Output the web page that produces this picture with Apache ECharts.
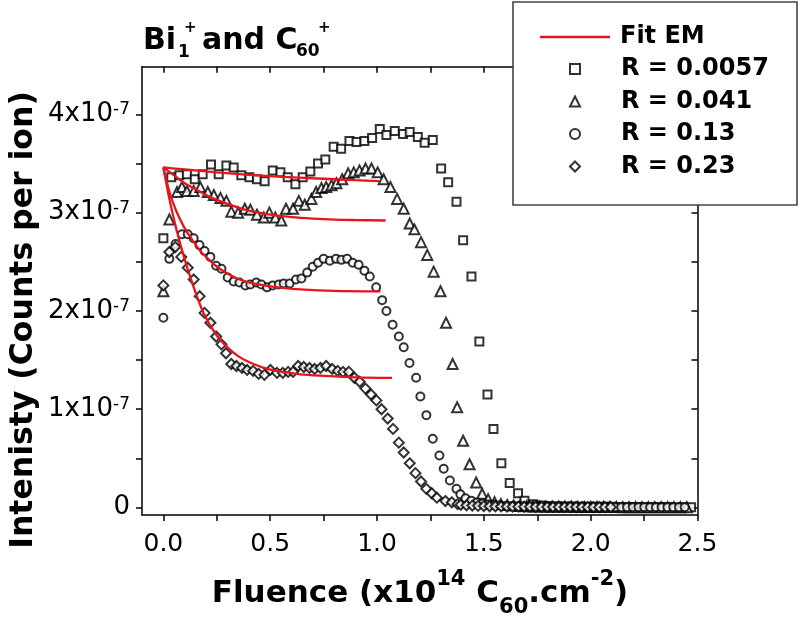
<!DOCTYPE html>
<html><head><meta charset="utf-8">
<script src="https://cdn.jsdelivr.net/npm/echarts@6/dist/echarts.min.js"></script>
<style>html,body{margin:0;padding:0;background:#fff}#c{width:800px;height:620px}</style>
</head><body><div id="c"></div>
<script>
// Intensity values in units of 1e-7 counts per ion; fluence in 1e14 C60/cm2
const xTicks = [0, 0.5, 1.0, 1.5, 2.0, 2.5];
const xMinorTicks = [0, 0.25, 0.5, 0.75, 1.0, 1.25, 1.5, 1.75, 2.0, 2.25, 2.5];
const yTicks = [0, 1, 2, 3, 4];
const yMinorTicks = [0, 0.5, 1, 1.5, 2, 2.5, 3, 3.5, 4];
const seriesNames = ['R = 0.0057', 'R = 0.041', 'R = 0.13', 'R = 0.23'];

const dataR0057 = [[0.000,2.74],[0.037,3.36],[0.075,3.38],[0.110,3.39],[0.147,3.34],[0.184,3.39],[0.223,3.49],[0.259,3.39],[0.295,3.48],[0.329,3.46],[0.365,3.38],[0.403,3.36],[0.438,3.34],[0.474,3.32],[0.512,3.43],[0.548,3.41],[0.582,3.36],[0.618,3.29],[0.652,3.36],[0.688,3.42],[0.724,3.50],[0.758,3.54],[0.797,3.67],[0.832,3.65],[0.871,3.73],[0.904,3.72],[0.941,3.73],[0.977,3.76],[1.013,3.85],[1.044,3.79],[1.083,3.83],[1.122,3.80],[1.153,3.82],[1.191,3.77],[1.223,3.71],[1.261,3.74],[1.300,3.45],[1.333,3.31],[1.372,3.11],[1.403,2.72],[1.442,2.35],[1.479,1.69],[1.517,1.15],[1.545,0.80],[1.582,0.45],[1.621,0.25],[1.660,0.146],[1.690,0.07],[1.730,0.034],[1.767,0.02],[1.804,0.015],[1.841,0.012],[1.878,0.01],[1.915,0.01],[1.952,0.009],[1.989,0.008],[2.026,0.008],[2.063,0.007],[2.100,0.007],[2.137,0.006],[2.174,0.006],[2.211,0.006],[2.248,0.005],[2.285,0.005],[2.322,0.005],[2.359,0.005],[2.396,0.004],[2.433,0.004],[2.470,0.004]];

const dataR041 = [[0.000,2.20],[0.028,2.93],[0.064,3.21],[0.087,3.26],[0.110,3.22],[0.142,3.22],[0.173,3.26],[0.208,3.21],[0.236,3.18],[0.267,3.15],[0.295,3.12],[0.318,3.01],[0.350,3.00],[0.381,3.04],[0.407,3.03],[0.438,2.98],[0.470,2.95],[0.496,3.00],[0.524,2.95],[0.552,2.92],[0.574,3.04],[0.607,3.04],[0.634,3.12],[0.662,3.08],[0.693,3.14],[0.715,3.21],[0.740,3.25],[0.762,3.26],[0.787,3.28],[0.810,3.30],[0.837,3.34],[0.865,3.40],[0.891,3.41],[0.918,3.43],[0.946,3.45],[0.974,3.45],[1.003,3.41],[1.031,3.34],[1.063,3.26],[1.094,3.14],[1.125,3.04],[1.153,2.89],[1.175,2.83],[1.206,2.70],[1.235,2.57],[1.265,2.40],[1.297,2.20],[1.323,1.88],[1.354,1.46],[1.375,1.02],[1.403,0.68],[1.433,0.44],[1.464,0.255],[1.492,0.14],[1.520,0.085],[1.550,0.055],[1.580,0.035],[1.610,0.025],[1.640,0.02],[1.670,0.016],[1.700,0.013],[1.730,0.011],[1.760,0.01],[1.790,0.009],[1.820,0.008],[1.850,0.008],[1.880,0.007],[1.910,0.007],[1.940,0.006],[1.970,0.006],[2.000,0.006],[2.030,0.005],[2.060,0.005],[2.090,0.005],[2.120,0.005],[2.150,0.004],[2.180,0.004],[2.210,0.004],[2.240,0.004],[2.270,0.004],[2.300,0.004],[2.330,0.003],[2.360,0.003],[2.390,0.003],[2.420,0.003],[2.450,0.003]];

const dataR13 = [[0.000,1.93],[0.028,2.53],[0.057,2.68],[0.087,2.78],[0.114,2.78],[0.142,2.74],[0.169,2.67],[0.193,2.61],[0.220,2.55],[0.247,2.46],[0.272,2.43],[0.301,2.34],[0.329,2.30],[0.356,2.29],[0.384,2.26],[0.407,2.27],[0.435,2.29],[0.459,2.27],[0.485,2.24],[0.512,2.26],[0.540,2.27],[0.563,2.28],[0.591,2.28],[0.621,2.32],[0.646,2.33],[0.673,2.39],[0.699,2.45],[0.724,2.49],[0.750,2.53],[0.779,2.51],[0.808,2.53],[0.833,2.52],[0.860,2.53],[0.886,2.49],[0.914,2.47],[0.941,2.41],[0.966,2.35],[0.996,2.24],[1.024,2.11],[1.044,2.00],[1.073,1.86],[1.102,1.74],[1.125,1.63],[1.152,1.47],[1.183,1.32],[1.203,1.13],[1.231,0.94],[1.261,0.70],[1.292,0.53],[1.312,0.395],[1.341,0.275],[1.372,0.19],[1.390,0.136],[1.414,0.095],[1.441,0.07],[1.468,0.052],[1.495,0.04],[1.522,0.032],[1.549,0.026],[1.576,0.022],[1.603,0.019],[1.630,0.016],[1.657,0.014],[1.684,0.012],[1.711,0.011],[1.738,0.01],[1.765,0.009],[1.792,0.009],[1.819,0.008],[1.846,0.008],[1.873,0.007],[1.900,0.007],[1.927,0.006],[1.954,0.006],[1.981,0.006],[2.008,0.005],[2.035,0.005],[2.062,0.005],[2.089,0.005],[2.116,0.004],[2.143,0.004],[2.170,0.004],[2.197,0.004],[2.224,0.004],[2.251,0.003],[2.278,0.003],[2.305,0.003],[2.332,0.003],[2.359,0.003],[2.386,0.003],[2.413,0.003],[2.440,0.003]];

const dataR23 = [[0.000,2.26],[0.028,2.60],[0.056,2.65],[0.084,2.55],[0.114,2.44],[0.142,2.32],[0.170,2.15],[0.193,1.98],[0.220,1.88],[0.247,1.74],[0.272,1.66],[0.293,1.57],[0.318,1.46],[0.342,1.44],[0.368,1.42],[0.392,1.40],[0.420,1.39],[0.446,1.36],[0.473,1.35],[0.501,1.40],[0.532,1.37],[0.559,1.37],[0.584,1.38],[0.607,1.38],[0.631,1.44],[0.657,1.43],[0.684,1.42],[0.708,1.41],[0.735,1.42],[0.762,1.44],[0.790,1.41],[0.816,1.39],[0.841,1.38],[0.868,1.38],[0.894,1.32],[0.919,1.28],[0.946,1.21],[0.972,1.15],[0.997,1.09],[1.021,1.00],[1.050,0.905],[1.075,0.80],[1.102,0.66],[1.125,0.56],[1.153,0.45],[1.180,0.35],[1.206,0.265],[1.231,0.19],[1.256,0.145],[1.280,0.10],[1.320,0.066],[1.350,0.053],[1.377,0.035],[1.392,0.028],[1.419,0.023],[1.446,0.02],[1.473,0.017],[1.500,0.015],[1.527,0.013],[1.554,0.012],[1.581,0.011],[1.608,0.01],[1.635,0.009],[1.662,0.009],[1.689,0.008],[1.716,0.008],[1.743,0.007],[1.770,0.007],[1.797,0.006],[1.824,0.006],[1.851,0.006],[1.878,0.005],[1.905,0.005],[1.932,0.005],[1.959,0.005],[1.986,0.004],[2.013,0.004],[2.040,0.004],[2.067,0.004],[2.094,0.004]];

const fitR0057 = [[0,3.46],[0.1,3.44],[0.25,3.41],[0.4,3.385],[0.56,3.365],[0.7,3.35],[0.8,3.34],[0.9,3.33],[1.01,3.32]];
const fitR041 = [[0,3.46],[0.05,3.38],[0.1,3.30],[0.15,3.24],[0.2,3.18],[0.25,3.13],[0.3,3.09],[0.4,3.02],[0.5,2.98],[0.6,2.955],[0.7,2.94],[0.8,2.93],[0.9,2.925],[1.04,2.92]];
const fitR13 = [[0,3.46],[0.03,3.2],[0.06,3.02],[0.095,2.86],[0.13,2.74],[0.173,2.61],[0.21,2.53],[0.251,2.45],[0.3,2.38],[0.345,2.33],[0.4,2.29],[0.485,2.255],[0.56,2.235],[0.64,2.22],[0.8,2.205],[1.016,2.2]];
const fitR23 = [[0,3.46],[0.03,3.12],[0.06,2.84],[0.095,2.56],[0.142,2.24],[0.19,1.97],[0.25,1.75],[0.3,1.63],[0.35,1.54],[0.4,1.48],[0.485,1.41],[0.56,1.38],[0.64,1.355],[0.75,1.34],[0.9,1.325],[1.07,1.32]];

const FONT = '"DejaVu Sans", Verdana, sans-serif';
const RED = '#e8141c';
const chart = echarts.init(document.getElementById('c'), null, {renderer: 'canvas'});

const axisLineStyle = {color: '#000', width: 1.5};
function xAx(pos, showLabel, inside) {
  return {
    type: 'value', position: pos, min: -0.1, max: 2.5,
    axisLine: {show: true, onZero: false, lineStyle: axisLineStyle},
    axisTick: {show: true, inside: inside, length: 6, customValues: xMinorTicks, lineStyle: axisLineStyle},
    axisLabel: showLabel ? {show: true, customValues: xTicks, formatter: v => v.toFixed(1), fontSize: 25, fontFamily: FONT, color: '#000', margin: 17} : {show: false},
    splitLine: {show: false}
  };
}
function yAx(pos, showLabel, inside) {
  return {
    type: 'value', position: pos, min: -0.076, max: 4.485,
    axisLine: {show: true, onZero: false, lineStyle: axisLineStyle},
    axisTick: {show: true, inside: inside, length: 6, customValues: yMinorTicks, lineStyle: axisLineStyle},
    axisLabel: showLabel ? {
      show: true, customValues: yTicks, margin: 12, color: '#000',
      formatter: v => v === 0 ? '{n|0}' : '{n|' + v + 'x10}{s|-7}',
      rich: {n: {fontSize: 26, fontFamily: FONT, color: '#000', verticalAlign: 'bottom'},
             s: {fontSize: 17, fontFamily: FONT, color: '#000', verticalAlign: 'top'}}
    } : {show: false},
    splitLine: {show: false}
  };
}

const symbols = ['rect', 'triangle', 'circle', 'diamond'];
const sizes = [8, 10, 8, 10];
const datasets = [dataR0057, dataR041, dataR13, dataR23];
const fits = [fitR0057, fitR041, fitR13, fitR23];

const series = [];
datasets.forEach((d, i) => {
  series.push({
    name: seriesNames[i], type: 'scatter', data: d, symbol: symbols[i], symbolSize: sizes[i],
    itemStyle: {color: '#fff', borderColor: '#000', borderWidth: 2}, z: 2 + i, silent: true
  });
});
fits.forEach((d, i) => {
  series.push({
    name: 'Fit EM', type: 'line', data: d, smooth: 0.3, symbol: 'none', showSymbol: false,
    lineStyle: {color: RED, width: 2.3}, itemStyle: {color: RED}, z: 10, silent: true
  });
});

const txt = (t, x, y, size) => ({
  type: 'text', x: x, y: y, z: 20,
  style: {text: t, font: 'bold ' + size + 'px ' + FONT, fill: '#000', textAlign: 'left', textVerticalAlign: 'middle', verticalAlign: 'middle'}
});

const richBase = {fontWeight: 'bold', fontFamily: FONT, fill: '#000', color: '#000'};
const option = {
  animation: false,
  backgroundColor: '#fff',
  grid: {left: 142, right: 102.5, top: 66.7, bottom: 105},
  xAxis: [xAx('bottom', true, false), xAx('top', false, true)],
  yAxis: [yAx('left', true, false), yAx('right', false, true)],
  legend: [
    {data: [{name: 'Fit EM', icon: 'rect'}], left: 540, top: 24, padding: 0, itemWidth: 70, itemHeight: 2.5, selectedMode: false, z: 60,
     textStyle: {fontSize: 24, fontWeight: 'bold', fontFamily: FONT, color: '#000', lineHeight: 26, padding: [0, 0, 0, 5]}},
    {data: seriesNames, orient: 'vertical', left: 569, top: 56, padding: 0, itemWidth: 10, itemHeight: 10, itemGap: 6.5, selectedMode: false, z: 60,
     textStyle: {fontSize: 24, fontWeight: 'bold', fontFamily: FONT, color: '#000', lineHeight: 26, padding: [0, 0, 0, 36]}}
  ],
  graphic: [
    {type: 'rect', shape: {x: 513, y: 2, width: 284, height: 203}, style: {fill: '#fff', stroke: '#444', lineWidth: 1.6}, z: 50},
    txt('Bi', 143, 41, 30),
    txt('1', 178, 53, 17),
    txt('+', 184, 28, 15),
    txt('and C', 202, 41, 30),
    txt('60', 296, 52, 17),
    txt('+', 318, 28, 15),
    {type: 'text', x: 420, y: 594, z: 20,
     style: {text: '{b|Fluence (x10}{sp|14}{b| C}{sb|60}{b|.cm}{sp|-2}{b|)}', textAlign: 'center', textVerticalAlign: 'middle', verticalAlign: 'middle',
       rich: {b: Object.assign({fontSize: 31, lineHeight: 49, verticalAlign: 'middle'}, richBase),
              sp: Object.assign({fontSize: 21, verticalAlign: 'top'}, richBase),
              sb: Object.assign({fontSize: 21, verticalAlign: 'bottom'}, richBase)}}},
    {type: 'text', x: 24, y: 320, rotation: Math.PI / 2, z: 20,
     style: {text: 'Intenisty (Counts per ion)', font: 'bold 31.5px ' + FONT, fill: '#000', textAlign: 'center', textVerticalAlign: 'middle', verticalAlign: 'middle'}}
  ],
  series: series
};
chart.setOption(option);
</script></body></html>
